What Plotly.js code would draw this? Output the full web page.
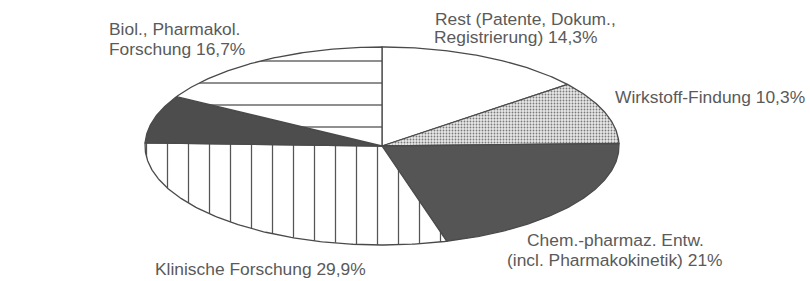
<!DOCTYPE html>
<html><head><meta charset="utf-8">
<script src="https://cdn.plot.ly/plotly-3.0.1.min.js"></script>
<style>html,body{margin:0;padding:0;background:#fff}#chart{width:810px;height:281px}</style>
</head><body><div id="chart"></div>
<script>
// Data (clockwise from 12 o'clock)
const categories = ['Rest (Patente, Dokum.,|Registrierung)', 'Wirkstoff-Findung', 'Chem.-pharmaz. Entw.|(incl. Pharmakokinetik)', 'Klinische Forschung', 'Toxikologie', 'Biol., Pharmakol.|Forschung'];
const values = [14.3, 10.3, 21, 29.9, 7.8, 16.7];

// Styles
const fills = [
  {fillcolor:'#ffffff'},
  {fillcolor:'#dcdcdc', fillpattern:{shape:'.', size:3, solidity:0.3, fgcolor:'#7a7a7a', bgcolor:'#e8e8e8'}},
  {fillcolor:'#555555'},
  {fillcolor:'#ffffff', fillpattern:{shape:'|', size:21, solidity:0.06, fgcolor:'#555', bgcolor:'#ffffff'}},
  {fillcolor:'#4d4d4d'},
  {fillcolor:'#ffffff', fillpattern:{shape:'-', size:22, solidity:0.06, fgcolor:'#555', bgcolor:'#ffffff'}}
];
// label line positions: [x, y, xanchor]
const labelPos = [
  [[433,18.5,'left'],[432,37,'left']],
  [[613,97,'left']],
  [[615,240,'center'],[615,260,'center']],
  [[153,269,'left']],
  [[7,116.5,'left']],
  [[107,29,'left'],[107,48.5,'left']]
];

const cx = 382, cy = 146, rx = 237, ry = 99;
const total = values.reduce((a,b)=>a+b,0);
const traces = [];
let acc = 0;
values.forEach((v,i)=>{
  const a0 = acc/total*2*Math.PI, a1 = (acc+v)/total*2*Math.PI;
  acc += v;
  const xs=[cx], ys=[cy];
  const n = Math.max(8, Math.ceil((a1-a0)/0.01));
  for(let k=0;k<=n;k++){
    const t = a0 + (a1-a0)*k/n;
    xs.push(cx + rx*Math.sin(t));
    ys.push(cy - ry*Math.cos(t));
  }
  xs.push(cx); ys.push(cy);
  traces.push(Object.assign({
    type:'scatter', mode:'lines', x:xs, y:ys, fill:'toself',
    line:{color:'#4a4a4a', width:1.3}, hoverinfo:'skip', showlegend:false
  }, fills[i]));
});

function fmt(v){ return String(v).replace('.', ',') + '%'; }
const annotations = [];
categories.forEach((c,i)=>{
  const lines = c.split('|');
  lines[lines.length-1] += ' ' + fmt(values[i]);
  lines.forEach((ln,j)=>{
    const p = labelPos[i][j];
    annotations.push({x:p[0], y:p[1], xref:'x', yref:'y', text:ln, showarrow:false,
      xanchor:p[2], yanchor:'middle', align:p[2]==='center'?'center':'left',
      font:{family:'Liberation Sans, Arial, sans-serif', size:17.4, color:'#5a5a5a'}});
  });
});

Plotly.newPlot('chart', traces, {
  width:810, height:281,
  margin:{l:10, r:0, t:6, b:0},
  paper_bgcolor:'#fff', plot_bgcolor:'#fff',
  xaxis:{range:[10,810], visible:false, fixedrange:true},
  yaxis:{range:[281,6], visible:false, fixedrange:true},
  annotations:annotations, hovermode:false, showlegend:false
}, {staticPlot:true, displayModeBar:false});
</script></body></html>
